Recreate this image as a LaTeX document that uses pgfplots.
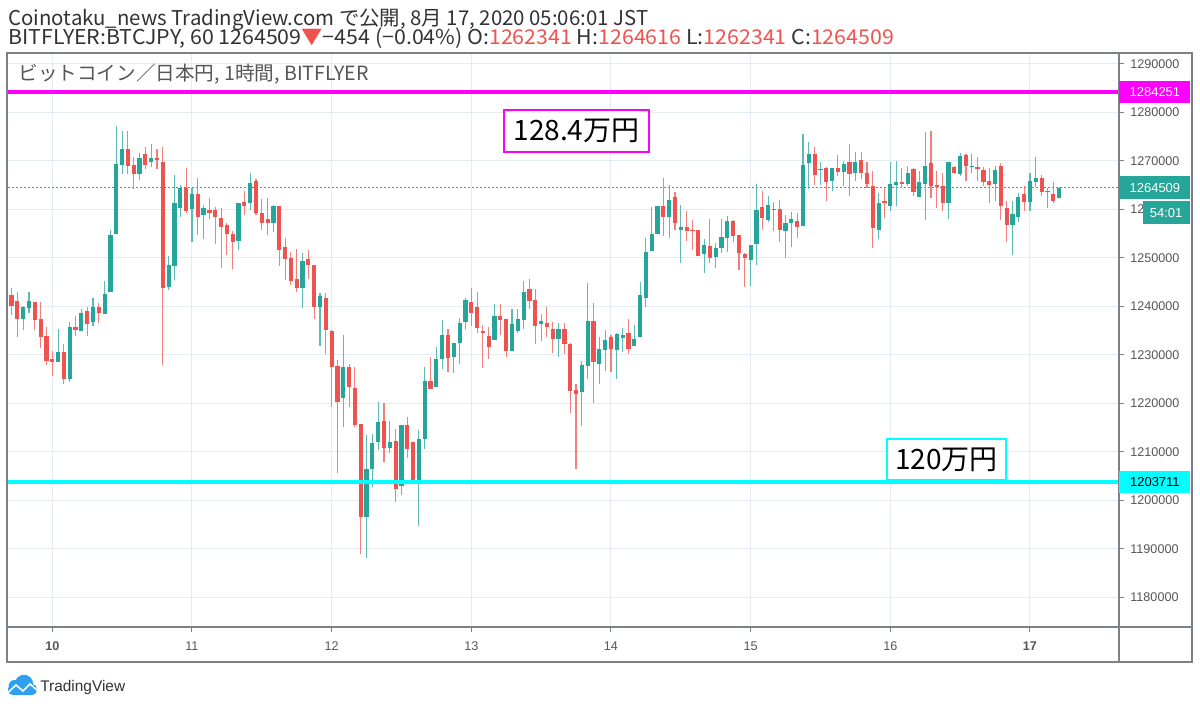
\documentclass[border=0pt]{standalone}
\usepackage{fontspec}
\setmainfont{Liberation Sans}
\newfontfamily\jp{Noto Sans CJK JP}
\usepackage{pgfplots}
\usepackage{pgfplotstable}
\pgfplotsset{compat=1.18}

\definecolor{tvgreen}{RGB}{38,166,154}
\definecolor{tvred}{RGB}{239,83,80}
\definecolor{gridc}{RGB}{228,235,242}
\definecolor{framec}{RGB}{125,128,138}
\definecolor{lblc}{RGB}{85,85,90}
\definecolor{hdr}{RGB}{50,50,55}
\definecolor{tvblue}{RGB}{45,160,240}
\definecolor{mag}{RGB}{255,0,255}
\definecolor{cya}{RGB}{0,255,255}

% hourly candles, h = hours from Aug 10 00:00
\pgfplotstableread{
h O H L C
-5 1237400 1240100 1235200 1239900
-4 1239700 1243000 1238700 1241100
1 1228600 1235400 1228600 1230600
3 1225100 1236800 1224400 1235800
5 1234900 1239500 1234900 1238700
7 1236800 1241800 1236000 1239900
9 1238500 1245300 1238500 1242600
10 1243000 1255800 1243000 1254700
11 1254900 1277200 1254900 1269400
12 1269200 1276200 1267300 1272500
15 1267300 1271600 1266100 1270600
17 1269800 1273500 1268800 1270600
20 1244000 1250400 1243400 1248600
21 1248400 1267100 1245500 1261300
22 1260300 1265100 1258500 1264400
24 1260100 1264400 1253300 1263200
26 1258900 1260900 1253900 1260300
32 1253500 1261300 1251600 1261300
34 1261300 1267500 1259900 1265500
38 1257200 1260900 1255400 1260700
43 1243800 1251000 1239700 1249400
46 1239900 1242800 1231900 1242200
50 1221100 1234100 1215200 1227500
54 1196600 1213500 1188100 1206500
55 1206500 1213700 1202800 1211900
56 1212100 1220300 1210400 1216200
58 1210800 1216400 1209800 1212100
60 1203000 1215600 1201100 1215600
63 1204000 1214500 1194700 1212700
64 1212700 1227500 1210600 1224600
66 1223400 1231600 1223400 1229200
67 1229200 1237200 1227100 1234100
69 1229600 1232500 1226300 1232500
70 1232500 1237600 1228100 1236600
71 1236800 1241800 1235200 1241300
76 1233100 1240500 1233100 1238000
79 1230800 1239500 1230800 1236400
80 1234900 1239500 1234500 1237400
81 1237200 1245300 1235400 1243000
84 1236400 1238500 1232900 1237000
87 1233300 1236600 1229600 1235400
91 1222400 1228800 1215400 1227900
92 1227700 1244800 1225100 1237000
94 1228100 1233700 1224000 1231200
95 1231000 1235200 1226700 1233100
97 1231000 1234500 1225100 1234300
98 1233500 1235600 1230600 1234100
100 1231900 1236200 1231900 1233300
101 1233700 1245100 1233700 1242400
102 1241800 1254100 1239900 1251200
103 1251400 1260500 1251400 1254900
104 1254900 1260700 1254900 1260700
106 1258500 1265100 1254100 1262000
108 1255800 1260900 1249000 1256400
112 1250800 1253900 1246900 1252700
114 1250200 1253100 1247900 1252100
115 1252100 1258000 1251000 1254300
116 1254100 1258700 1251200 1257600
120 1249600 1252700 1244200 1252700
121 1252900 1265300 1248600 1259900
123 1257800 1262800 1257400 1260900
124 1259900 1261500 1255600 1260100
126 1255600 1258900 1250000 1257200
127 1257200 1259500 1252300 1258000
129 1256600 1275600 1256600 1269200
130 1269600 1273900 1264200 1271400
132 1268100 1269800 1265100 1268300
134 1265900 1268600 1263800 1268600
136 1267700 1270000 1264800 1269400
138 1267500 1271900 1265900 1269800
142 1255800 1263400 1253900 1261300
144 1260700 1269800 1259700 1265300
145 1265100 1270000 1260700 1265700
147 1265300 1269000 1264800 1267500
149 1262600 1267900 1262600 1265700
150 1265300 1276000 1257800 1269000
154 1261300 1269800 1258000 1269800
156 1267300 1271600 1266900 1271000
158 1268800 1271400 1267500 1269000
162 1265300 1269000 1261800 1268100
165 1256800 1261800 1250600 1259100
166 1258500 1263400 1257400 1262600
168 1261500 1267500 1259700 1265900
169 1265700 1270800 1264600 1266500
171 1263600 1264400 1260300 1263800
173 1262341 1264616 1262341 1264509
}\greentab

\pgfplotstableread{
h O H L C
-7 1242400 1243800 1238200 1240100
-6 1241100 1243000 1233700 1237400
-3 1240900 1240900 1235200 1237200
-2 1237400 1240900 1231400 1233700
-1 1233900 1235800 1227900 1228800
0 1229200 1230800 1225700 1228600
2 1230600 1232300 1224000 1225100
4 1235800 1238000 1233900 1235200
6 1239100 1239900 1233900 1236400
8 1239900 1240700 1236600 1238700
13 1272500 1276200 1267300 1269000
14 1269200 1270800 1264200 1267300
16 1271400 1272900 1268300 1269200
18 1270600 1272500 1268300 1270200
19 1269800 1272900 1227900 1243800
23 1264400 1268600 1259300 1259700
25 1263200 1266500 1254700 1258500
27 1259900 1262400 1258000 1259300
28 1259900 1260500 1252900 1258500
29 1258200 1260300 1247900 1256400
30 1256800 1257200 1250600 1254900
31 1254900 1255600 1247700 1253300
33 1261500 1263800 1258900 1260700
35 1265900 1266300 1258900 1259300
36 1259300 1262200 1255800 1257200
37 1258000 1262400 1254700 1257200
39 1260700 1260700 1248400 1251600
40 1252300 1254100 1245500 1249800
41 1250000 1251200 1244400 1245300
42 1245700 1251900 1243000 1243800
44 1249800 1251600 1245700 1248600
45 1248600 1248600 1237400 1239900
47 1241800 1242800 1230200 1235200
48 1234900 1235200 1219300 1227500
49 1227700 1229000 1205700 1220300
51 1227500 1228100 1219300 1223400
52 1223200 1227500 1215200 1215600
53 1215800 1215800 1189000 1196600
57 1216400 1220100 1207900 1210800
59 1212300 1214700 1199700 1202400
61 1215600 1217200 1208800 1210600
62 1212100 1212100 1204000 1204000
65 1224600 1229600 1223000 1223000
68 1234100 1235400 1226500 1229400
72 1240900 1243800 1236000 1238700
73 1239900 1243000 1234500 1235600
74 1234900 1236200 1227300 1234500
75 1233900 1235800 1229200 1231600
77 1238000 1240500 1234100 1237200
78 1237400 1237400 1229600 1230800
82 1243600 1245700 1239500 1241100
83 1241300 1243600 1232300 1236000
85 1236600 1239900 1233700 1235800
86 1235400 1236800 1230400 1233300
88 1235400 1236600 1230200 1232300
89 1232300 1232500 1218000 1222600
90 1222800 1224000 1206500 1222000
93 1237000 1240700 1220100 1228600
96 1233700 1234100 1226500 1231200
99 1234500 1237400 1230200 1231200
105 1260700 1266500 1254500 1258500
107 1262600 1263600 1255800 1257200
109 1256400 1259700 1253500 1255600
110 1255800 1257800 1251600 1255600
111 1255800 1255800 1250400 1250400
113 1252500 1258000 1249000 1250000
117 1257600 1257800 1253300 1254500
118 1254700 1254700 1247500 1251000
119 1250800 1251000 1244000 1250000
122 1260500 1263800 1255800 1258200
125 1260100 1262000 1253300 1255800
128 1257600 1259300 1254100 1256400
131 1271400 1272900 1265100 1267100
133 1268600 1268800 1261800 1265700
135 1268600 1271200 1266900 1267700
137 1269800 1273500 1262800 1267300
139 1270200 1271900 1266300 1267500
140 1267500 1269800 1264400 1265300
141 1264800 1267900 1252100 1256200
143 1261800 1264400 1258200 1261300
146 1265700 1268600 1264400 1265300
148 1268300 1268600 1262800 1263600
151 1269600 1276200 1262400 1264800
152 1265100 1267900 1260300 1264600
153 1264800 1267500 1259700 1261300
155 1268800 1269000 1267300 1267500
157 1271200 1271400 1265900 1269000
159 1268800 1270800 1265900 1268300
160 1268100 1268800 1264800 1265700
161 1265900 1268600 1261300 1265100
163 1269000 1269600 1257800 1260700
164 1260300 1261800 1253300 1256800
167 1263200 1264800 1259700 1261500
170 1266500 1267100 1262800 1263600
172 1263200 1265700 1261300 1261800
}\redtab

\begin{document}
\begin{tikzpicture}
\useasboundingbox (0,0) rectangle (600pt,353pt);
\fill[white] (0,0) rectangle (600pt,353pt);

\begin{axis}[
  at={(4pt,39.5pt)}, anchor=south west,
  scale only axis, width=555.5pt, height=287pt,
  xmin=-7.61, xmax=183.3, ymin=1173915, ymax=1292268,
  axis line style={draw=none},
  xtick={0,24,48,72,96,120,144,168},
  xticklabels={\textbf{10},11,12,13,14,15,16,\textbf{17}},
  ytick={1180000,1190000,1200000,1210000,1220000,1230000,1240000,1250000,1260000,1270000,1280000,1290000},
  yticklabels={1180000,1190000,1200000,1210000,1220000,1230000,1240000,1250000,1260000,1270000,1280000,1290000},
  xtick pos=bottom, ytick pos=right, yticklabel pos=right,
  tick align=outside, major tick length=2.5pt,
  tick style={draw=framec, line width=0.5pt},
  grid=major, major grid style={draw=gridc, line width=0.5pt},
  scaled y ticks=false,
  /pgf/number format/assume math mode=true,
  tick label style={font=\fontsize{6.3}{7}\selectfont, text=lblc, inner sep=0pt},
  yticklabel style={anchor=west, xshift=3pt},
  xticklabel style={anchor=north, yshift=-4.5pt},
]
% current price (dotted)
\addplot[forget plot, tvgreen, line width=0.5pt, dash pattern=on 1pt off 1pt] coordinates {(-7.61,1264509) (183.3,1264509)};
% wicks
\addplot[forget plot, draw=none, mark=none, error bars/.cd, y dir=plus, y explicit, error mark=none,
  error bar style={draw=tvgreen!75!white, line width=0.55pt}]
  table[x=h, y=L, y error plus expr=\thisrow{H}-\thisrow{L}] {\greentab};
\addplot[forget plot, draw=none, mark=none, error bars/.cd, y dir=plus, y explicit, error mark=none,
  error bar style={draw=tvred!75!white, line width=0.55pt}]
  table[x=h, y=L, y error plus expr=\thisrow{H}-\thisrow{L}] {\redtab};
% bodies
\addplot[forget plot, draw=none, mark=none, error bars/.cd, y dir=plus, y explicit, error mark=none,
  error bar style={draw=tvgreen, line width=2.1pt}]
  table[x=h, y=O, y error plus expr=\thisrow{C}-\thisrow{O}] {\greentab};
\addplot[forget plot, draw=none, mark=none, error bars/.cd, y dir=plus, y explicit, error mark=none,
  error bar style={draw=tvred, line width=2.1pt}]
  table[x=h, y=C, y error plus expr=\thisrow{O}-\thisrow{C}] {\redtab};
% horizontal levels
\addplot[forget plot, mag, line width=2pt] coordinates {(-7.61,1284251) (183.3,1284251)};
\addplot[forget plot, cya, line width=2pt] coordinates {(-7.61,1203711) (183.3,1203711)};
\coordinate (pm) at (axis cs:183.3,1284251);
\coordinate (pc) at (axis cs:183.3,1203711);
\coordinate (pg) at (axis cs:183.3,1264509);
\end{axis}

% frame
\draw[framec, line width=0.6pt] (3.5pt,22pt) rectangle (596pt,326.5pt);
\draw[framec, line width=0.6pt] (559.5pt,22pt) -- (559.5pt,326.5pt);
\draw[framec, line width=0.6pt] (3.5pt,39.5pt) -- (596pt,39.5pt);

% price tags
\node[fill=mag, text=white, anchor=west, minimum width=35.5pt, minimum height=11pt, inner sep=0pt,
  font=\fontsize{6.5}{7}\selectfont] at (pm) {1284251};
\node[fill=tvgreen, text=white, anchor=west, minimum width=35.5pt, minimum height=11.5pt, inner sep=0pt,
  font=\fontsize{6.5}{7}\selectfont] at (pg) {1264509};
\node[fill=cya, text=black, anchor=west, minimum width=35.5pt, minimum height=11pt, inner sep=0pt,
  font=\fontsize{6.5}{7}\selectfont] at (pc) {1203711};
\node[fill=tvgreen, text=white, anchor=north east, minimum width=23.5pt, minimum height=11.5pt, inner sep=0pt,
  font=\fontsize{6.5}{7}\selectfont] at (595pt,252.5pt) {54:01};

% annotation boxes
\node[draw=mag, line width=1pt, fill=white, minimum width=72.5pt, minimum height=21pt, inner sep=0pt,
  font=\jp\fontsize{14}{16}\selectfont] at (288.25pt,287.5pt) {128.4万円};
\node[draw=cya, line width=1pt, fill=white, minimum width=59.5pt, minimum height=20.5pt, inner sep=0pt,
  font=\jp\fontsize{14}{16}\selectfont] at (473.25pt,123.25pt) {120万円};

% header
\node[anchor=base west, inner sep=0pt, text=hdr, font=\jp\fontsize{10.2}{12}\selectfont] at (4pt,340.2pt)
  {Coinotaku\_news TradingView.com で公開, 8月 17, 2020 05:06:01 JST};
\node[anchor=base west, inner sep=0pt, text=hdr, font=\jp\fontsize{10.2}{12}\selectfont] at (4pt,330.5pt)
  {\scalebox{1.047}[1]{BITFLYER:BTCJPY, 60 1264509\textcolor{tvred}{▼}−454 (−0.04\%) O:\textcolor{tvred}{1262341} H:\textcolor{tvred}{1264616} L:\textcolor{tvred}{1262341} C:\textcolor{tvred}{1264509}}};
\node[anchor=base west, inner sep=0pt, text=lblc, font=\jp\fontsize{9.8}{11}\selectfont] at (9pt,312.5pt)
  {ビットコイン／日本円, 1時間, BITFLYER};

% TradingView logo
\fill[tvblue, rounded corners=2.5pt] (4pt,5.5pt) rectangle (18.5pt,11pt);
\fill[tvblue] (12pt,11pt) circle (4.6pt);
\fill[tvblue] (7.3pt,10pt) circle (3pt);
\draw[white, line width=0.8pt] (4.3pt,7pt) -- (8pt,10.5pt) -- (11.5pt,7.5pt) -- (15pt,11pt) -- (18.5pt,8pt);
\node[anchor=base west, inner sep=0pt, text=hdr, font=\fontsize{7.7}{9}\selectfont] at (20pt,7pt) {TradingView};
\end{tikzpicture}
\end{document}
